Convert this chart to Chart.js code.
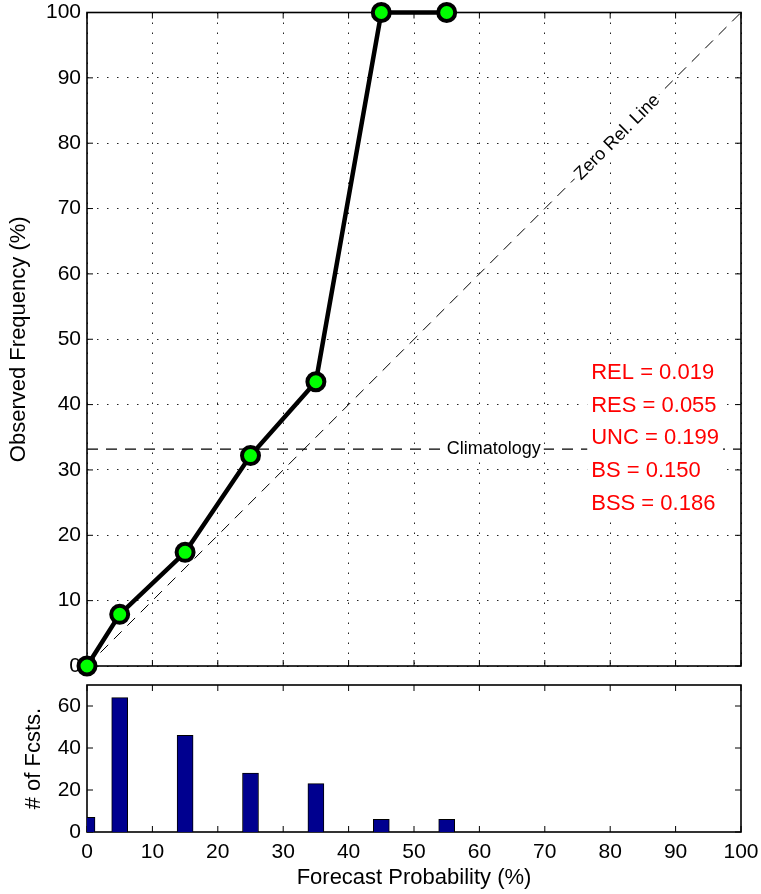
<!DOCTYPE html>
<html>
<head>
<meta charset="utf-8">
<script src="https://cdn.jsdelivr.net/npm/chart.js@4"></script>
<style>
  body { margin: 0; background: #fff; }
  #wrap { position: relative; width: 761px; height: 894px; }
  canvas { position: absolute; left: 0; }
</style>
</head>
<body>
<div id="wrap">
  <canvas id="relChart" width="761" height="680" style="top:0"></canvas>
  <canvas id="histChart" width="761" height="214" style="top:680px"></canvas>
</div>
<script>
// reliability curve
var forecastProb = [0, 5, 15, 25, 35, 45, 55];
var observedFreq = [0, 7.9, 17.4, 32.2, 43.5, 100, 100];
var climatology = 33.2;

// number of forecasts per bin
var binCenters = [0, 5, 15, 25, 35, 45, 55];
var fcstCounts = [7, 64, 46, 28, 23, 6, 6];

// scores printed in red
var scoreNames = ["REL", "RES", "UNC", "BS", "BSS"];
var scoreValues = [0.019, 0.055, 0.199, 0.150, 0.186];

// tick labels
var probTicks = [0, 10, 20, 30, 40, 50, 60, 70, 80, 90, 100];
var countTicks = [0, 20, 40, 60];

var FONT = "'Liberation Sans', Arial, Helvetica, sans-serif";
Chart.defaults.font.family = FONT;
Chart.defaults.font.size = 21;
Chart.defaults.color = "#000";

function useTicks(list) {
  return function (s) { s.ticks = list.map(function (v) { return { value: v }; }); };
}
function fixWidth(w) {
  return function (s) { s.width = w; s.paddingTop = 0; s.paddingBottom = 0; s.paddingLeft = 0; s.paddingRight = 0; };
}
function fixHeight(h) {
  return function (s) { s.height = h; s.paddingTop = 0; s.paddingBottom = 0; s.paddingLeft = 0; s.paddingRight = 0; };
}

// box + inward tick marks on all four sides (matlab style)
var framePlugin = {
  id: "frame",
  beforeDatasetsDraw: function (chart) {
    var ctx = chart.ctx, a = chart.chartArea;
    var xs = chart.scales.x, ys = chart.scales.y;
    ctx.save();
    ctx.strokeStyle = "#000";
    ctx.lineWidth = 1;
    ctx.beginPath();
    xs.ticks.forEach(function (t) {
      var p = xs.getPixelForValue(t.value);
      ctx.moveTo(p, a.bottom); ctx.lineTo(p, a.bottom - 6);
      ctx.moveTo(p, a.top); ctx.lineTo(p, a.top + 6);
    });
    ys.ticks.forEach(function (t) {
      var p = ys.getPixelForValue(t.value);
      ctx.moveTo(a.left, p); ctx.lineTo(a.left + 6, p);
      ctx.moveTo(a.right, p); ctx.lineTo(a.right - 6, p);
    });
    ctx.stroke();
    ctx.lineWidth = 1.6;
    ctx.strokeRect(a.left, a.top, a.right - a.left, a.bottom - a.top);
    ctx.restore();
  }
};

// text annotations of the reliability diagram
var labelPlugin = {
  id: "labels",
  afterDatasetsDraw: function (chart) {
    var ctx = chart.ctx, xs = chart.scales.x, ys = chart.scales.y;
    ctx.save();

    // Zero Rel. Line, along the diagonal
    var ang = Math.atan2(ys.getPixelForValue(100) - ys.getPixelForValue(0),
                         xs.getPixelForValue(100) - xs.getPixelForValue(0));
    ctx.font = "18px " + FONT;
    ctx.textAlign = "center";
    ctx.textBaseline = "middle";
    ctx.save();
    ctx.translate(xs.getPixelForValue(81), ys.getPixelForValue(81));
    ctx.rotate(ang);
    var w = ctx.measureText("Zero Rel. Line").width;
    ctx.fillStyle = "#fff";
    ctx.fillRect(-w / 2 - 3, -10, w + 6, 20);
    ctx.fillStyle = "#000";
    ctx.fillText("Zero Rel. Line", 0, 1);
    ctx.restore();

    // Climatology
    var cx = xs.getPixelForValue(62.2), cy = ys.getPixelForValue(climatology);
    w = ctx.measureText("Climatology").width;
    ctx.fillStyle = "#fff";
    ctx.fillRect(cx - w / 2 - 3, cy - 10, w + 6, 20);
    ctx.fillStyle = "#000";
    ctx.fillText("Climatology", cx, cy);

    // scores
    ctx.font = "22px " + FONT;
    ctx.textAlign = "left";
    var lines = scoreNames.map(function (n, i) { return n + " = " + scoreValues[i].toFixed(3); });
    var tx = xs.getPixelForValue(77.1);
    var maxW = 0;
    lines.forEach(function (l) { maxW = Math.max(maxW, ctx.measureText(l).width); });
    var yTop = ys.getPixelForValue(45), yBot = ys.getPixelForValue(45 - 5 * (lines.length - 1));
    ctx.fillStyle = "#fff";
    ctx.fillRect(tx - 4, yTop - 16, maxW + 8, yBot - yTop + 32);
    ctx.fillStyle = "#ff0000";
    lines.forEach(function (l, i) {
      ctx.fillText(l, tx, ys.getPixelForValue(45 - 5 * i) + 1);
    });
    ctx.restore();
  }
};

var relCurve = forecastProb.map(function (p, i) { return { x: p, y: observedFreq[i] }; });

new Chart(document.getElementById("relChart"), {
  type: "line",
  data: {
    datasets: [
      {
        data: relCurve,
        borderColor: "#000",
        borderWidth: 4.5,
        pointRadius: 8.5,
        pointBorderWidth: 4,
        pointBackgroundColor: "#00ff00",
        pointBorderColor: "#000",
        clip: false
      },
      {
        data: [{ x: 0, y: 0 }, { x: 100, y: 100 }],
        borderColor: "#000",
        borderWidth: 1,
        borderDash: [11, 8],
        pointRadius: 0
      },
      {
        data: [{ x: 0, y: climatology }, { x: 100, y: climatology }],
        borderColor: "#000",
        borderWidth: 1.2,
        borderDash: [11, 8],
        pointRadius: 0
      }
    ]
  },
  options: {
    responsive: false,
    animation: false,
    layout: { padding: { top: 12, right: 20, bottom: 0, left: 0 } },
    plugins: { legend: { display: false }, tooltip: { enabled: false } },
    scales: {
      x: {
        type: "linear", min: 0, max: 100,
        afterBuildTicks: useTicks(probTicks),
        afterFit: fixHeight(14),
        ticks: { display: false },
        grid: { color: "#222", lineWidth: 1, drawTicks: false },
        border: { display: false, dash: [1.5, 8.5] }
      },
      y: {
        type: "linear", min: 0, max: 100,
        afterBuildTicks: useTicks(probTicks),
        afterFit: fixWidth(87),
        ticks: { padding: 6 },
        grid: { color: "#222", lineWidth: 1, drawTicks: false },
        border: { display: false, dash: [1.5, 8.5] },
        title: { display: true, text: "Observed Frequency (%)", font: { size: 22 }, padding: { top: 6, bottom: 0 } }
      }
    }
  },
  plugins: [framePlugin, labelPlugin]
});

var histData = binCenters.map(function (p, i) { return { x: p, y: fcstCounts[i] }; });

new Chart(document.getElementById("histChart"), {
  type: "bar",
  data: {
    datasets: [{
      data: histData,
      backgroundColor: "#00008f",
      borderColor: "#000",
      borderWidth: 1,
      barThickness: 16,
      clip: 0
    }]
  },
  options: {
    responsive: false,
    animation: false,
    layout: { padding: { top: 5, right: 20, bottom: 0, left: 0 } },
    plugins: { legend: { display: false }, tooltip: { enabled: false } },
    scales: {
      x: {
        type: "linear", min: 0, max: 100, offset: false,
        afterBuildTicks: useTicks(probTicks),
        afterFit: fixHeight(62),
        ticks: { padding: 8 },
        grid: { display: false, offset: false, drawTicks: false },
        border: { display: false },
        title: { display: true, text: "Forecast Probability (%)", font: { size: 22 }, padding: { top: 0, bottom: 3 } }
      },
      y: {
        type: "linear", min: 0, max: 70,
        afterBuildTicks: useTicks(countTicks),
        afterFit: fixWidth(87),
        ticks: { padding: 6 },
        grid: { display: false, drawTicks: false },
        border: { display: false },
        title: { display: true, text: "# of Fcsts.", font: { size: 22 }, padding: { top: 21, bottom: 0 } }
      }
    }
  },
  plugins: [framePlugin]
});
</script>
</body>
</html>
